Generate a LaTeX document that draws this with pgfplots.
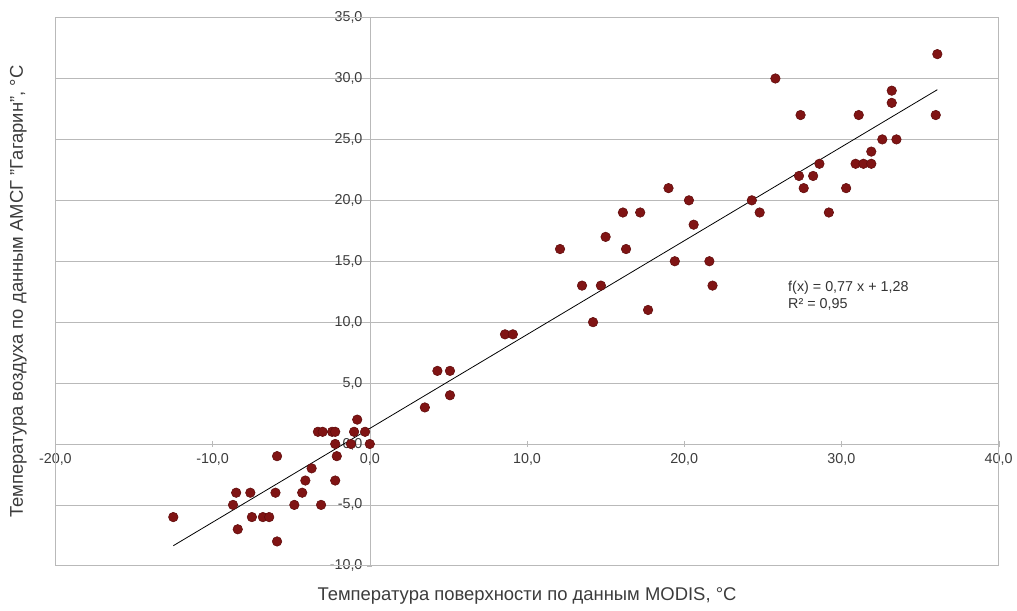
\documentclass[border=0pt]{standalone}
\usepackage{fontspec}
\setmainfont{Liberation Sans}
\usepackage{pgfplots}
\pgfplotsset{compat=1.18}
\definecolor{dotred}{RGB}{128,20,20}
\definecolor{dotedge}{RGB}{95,12,12}
\definecolor{gridgray}{RGB}{185,185,185}
\definecolor{labgray}{RGB}{60,60,60}
\begin{document}
\begin{tikzpicture}
\begin{axis}[
  scale only axis,
  width=711pt, height=413.25pt,
  xmin=-20, xmax=40, ymin=-10, ymax=35,
  axis lines=middle,
  axis line style={-, draw=gridgray},
  xtick={-20,-10,...,40},
  ytick={-10,-5,...,35},
  ymajorgrids,
  grid style={gridgray, line width=0.6pt},
  tick style={gridgray},
  major tick length=4pt,
  hide obscured x ticks=false,
  hide obscured y ticks=false,
  tick label style={font=\fontsize{10.8}{12}\selectfont, text=labgray},
  xticklabel style={anchor=north, yshift=-2pt},
  yticklabel style={anchor=east, xshift=0pt},
  /pgf/number format/.cd, fixed, fixed zerofill, precision=1, use comma, assume math mode=true,
  /pgfplots/.cd,
  clip=false,
  xlabel={Температура поверхности по данным MODIS, °C},
  ylabel={Температура воздуха по данным АМСГ "Гагарин", °C},
  every axis x label/.style={at={(rel axis cs:0.5,0)}, anchor=center, yshift=-22.5pt, font=\fontsize{13.9}{15}\selectfont, text=labgray},
  every axis y label/.style={at={(rel axis cs:0,0.5)}, xshift=-28pt, rotate=90, anchor=center, font=\fontsize{13.9}{15}\selectfont, text=labgray},
]
\draw[gridgray, line width=0.6pt] (rel axis cs:0,0) rectangle (rel axis cs:1,1);
\addplot[only marks, mark=*, mark size=3.6pt, mark options={fill=dotred, draw=dotedge, line width=0.4pt}] coordinates {
(-12.5,-6) (-8.5,-4) (-7.6,-4) (-8.7,-5) (-8.4,-7) (-7.5,-6) (-6.8,-6) (-6.4,-6)
(-5.9,-1) (-6.0,-4) (-5.9,-8) (-4.8,-5) (-4.3,-4) (-4.1,-3) (-3.7,-2) (-3.1,-5)
(-3.3,1) (-3.0,1) (-2.4,1) (-2.2,1) (-2.2,0) (-2.1,-1) (-2.2,-3) (-1.2,0)
(-0.8,2) (-1.0,1) (-0.3,1) (0.0,0)
(3.5,3) (4.3,6) (5.1,6) (5.1,4) (8.6,9) (9.1,9) (12.1,16) (13.5,13) (14.2,10)
(14.7,13) (15.0,17) (16.1,19) (16.3,16) (17.2,19) (17.7,11) (19.0,21) (19.4,15)
(20.3,20) (20.6,18) (21.6,15) (21.8,13)
(25.8,30) (27.4,27) (31.1,27) (36.1,32) (36.0,27) (33.2,29) (33.2,28) (32.6,25)
(33.5,25) (31.9,24) (30.9,23) (31.4,23) (31.9,23) (28.6,23) (28.2,22) (27.3,22)
(27.6,21) (30.3,21) (24.3,20) (24.8,19) (29.2,19)
};
\addplot[black, line width=0.6pt] coordinates {(-12.5,-8.35) (36.1,29.08)};
\node[anchor=west, align=left, font=\fontsize{10.8}{12.8}\selectfont, text=black!80, inner sep=0pt] at (axis cs:26.6,12.2) {f(x) = 0,77 x + 1,28\\R² = 0,95};
\path (rel axis cs:0,0) ++(-41.25pt,-33pt) node[inner sep=0pt]{};
\path (rel axis cs:1,1) ++(10.5pt,12.75pt) node[inner sep=0pt]{};
\end{axis}
\end{tikzpicture}
\end{document}
